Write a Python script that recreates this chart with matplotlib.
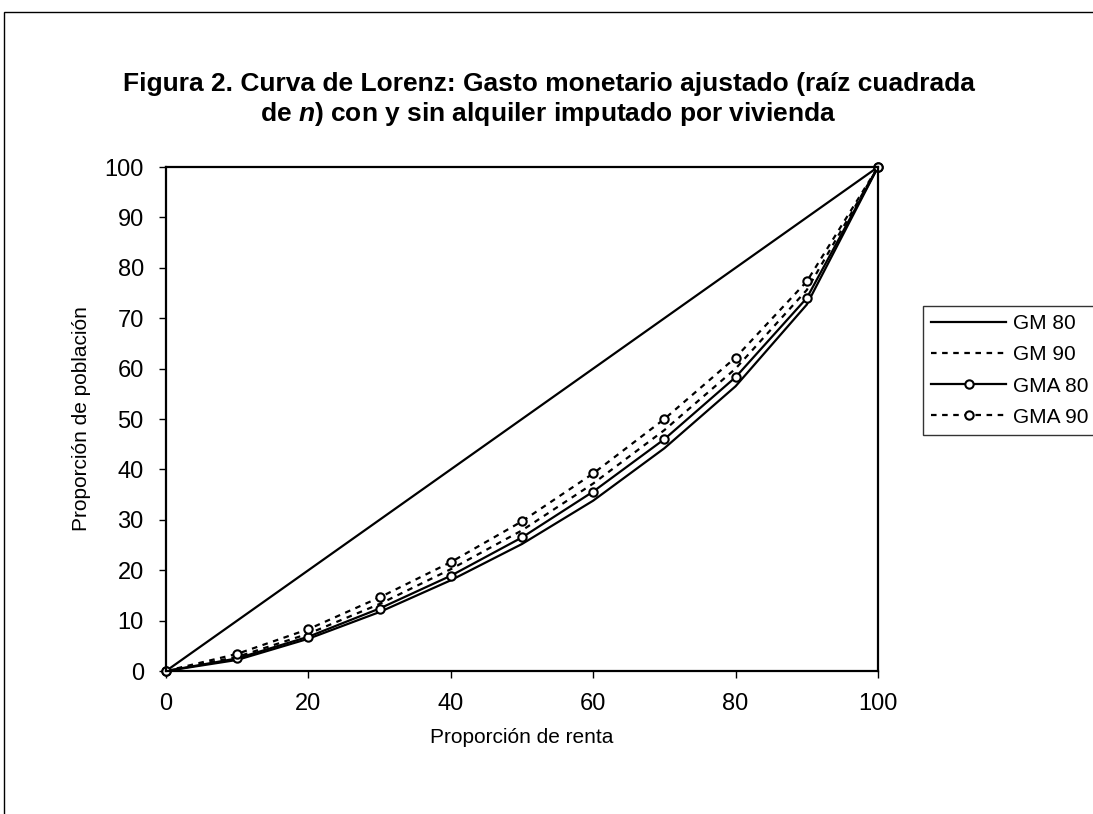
import matplotlib
matplotlib.use('Agg')
import matplotlib.pyplot as plt
from matplotlib.patches import Rectangle

plt.rcParams['font.family'] = ['Liberation Sans', 'DejaVu Sans']
plt.rcParams['mathtext.fontset'] = 'custom'
plt.rcParams['mathtext.it'] = 'Liberation Sans:italic:bold'
plt.rcParams['mathtext.rm'] = 'Liberation Sans:bold'

# Datos
renta = [0, 10, 20, 30, 40, 50, 60, 70, 80, 90, 100]
igualdad = [0, 10, 20, 30, 40, 50, 60, 70, 80, 90, 100]
gm80 = [0, 2.2, 6.4, 11.7, 18.0, 25.2, 33.8, 44.2, 56.5, 72.7, 100]
gm90 = [0, 2.8, 7.4, 13.3, 20.2, 27.9, 37.2, 47.8, 60.0, 75.6, 100]
gma80 = [0, 2.5, 6.8, 12.4, 18.9, 26.5, 35.6, 46.0, 58.3, 74.0, 100]
gma90 = [0, 3.4, 8.3, 14.6, 21.6, 29.7, 39.2, 50.0, 62.2, 77.3, 100]

W, H = 1093, 814
fig = plt.figure(figsize=(W / 100, H / 100), dpi=100)

# marco exterior del grafico (recortado a la derecha y abajo)
fig.patches.append(Rectangle((4 / W, -0.1), 1.2, 1 - 12 / H + 0.1,
                             transform=fig.transFigure, fill=False,
                             edgecolor='black', linewidth=1.0))

ax = fig.add_axes([166 / W, 1 - 671 / H, (878 - 166) / W, (671 - 167) / H])

lw = 1.6
ax.plot(renta, igualdad, color='black', linewidth=lw, clip_on=False)
ax.plot(renta, gm80, color='black', linewidth=lw, label='GM 80', clip_on=False)
ax.plot(renta, gm90, color='black', linewidth=lw, dashes=(2.5, 2.5),
        label='GM 90', clip_on=False)
ax.plot(renta, gma80, color='black', linewidth=lw, marker='o', markersize=6,
        markerfacecolor='white', markeredgecolor='black', markeredgewidth=1.5,
        label='GMA 80', clip_on=False)
ax.plot(renta, gma90, color='black', linewidth=lw, dashes=(2.5, 2.5),
        marker='o', markersize=6, markerfacecolor='white',
        markeredgecolor='black', markeredgewidth=1.5,
        label='GMA 90', clip_on=False)

ax.set_xlim(0, 100)
ax.set_ylim(0, 100)
ax.set_xticks(range(0, 101, 20))
ax.set_yticks(range(0, 101, 10))
ax.tick_params(axis='both', direction='out', length=5, width=1, labelsize=17,
               pad=11)
for s in ax.spines.values():
    s.set_linewidth(1.6)

ax.set_xlabel('Proporción de renta', fontsize=15, labelpad=9)
ax.set_ylabel('Proporción de población', fontsize=15, labelpad=10)

fig.text(0.502, 1 - 84 / H,
         'Figura 2. Curva de Lorenz: Gasto monetario ajustado (raíz cuadrada',
         ha='center', va='center', fontsize=19, fontweight='bold')
fig.text(0.502, 1 - 114 / H,
         r'de $n$) con y sin alquiler imputado por vivienda',
         ha='center', va='center', fontsize=19, fontweight='bold')

leg = fig.legend(loc='upper left', bbox_to_anchor=(923 / W, 1 - 306 / H),
                 frameon=True, fancybox=False, edgecolor='black',
                 fontsize=15, handlelength=3.6, handletextpad=0.33,
                 borderaxespad=0, borderpad=0.4, labelspacing=0.58)
leg.get_frame().set_linewidth(1.0)

fig.savefig('out.png', dpi=100, facecolor='white')
